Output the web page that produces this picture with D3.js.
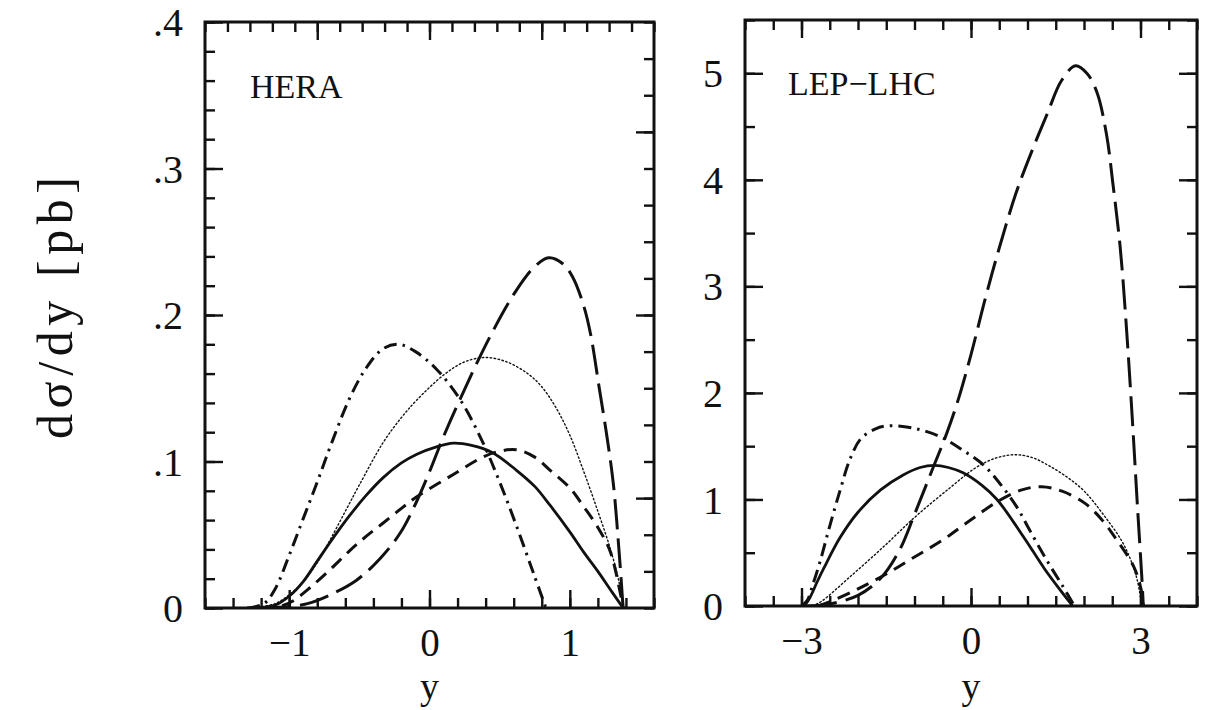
<!DOCTYPE html>
<html>
<head>
<meta charset="utf-8">
<script src="https://cdn.jsdelivr.net/npm/d3@7"></script>
<style>
  body { margin: 0; background: #fff; }
  svg { display: block; }
  text { font-family: "Liberation Serif", "DejaVu Serif", serif; fill: #111; }
</style>
</head>
<body>
<svg id="chart" width="1211" height="710"></svg>
<script>
// Data ----------------------------------------------------------
// HERA panel: [y, dsigma/dy in pb]
var heraSolid = [[-1.25, 0], [-1.1, 0.002], [-1.0, 0.008], [-0.9, 0.018], [-0.8, 0.032], [-0.7, 0.046],
  [-0.57, 0.063], [-0.45, 0.077], [-0.33, 0.089], [-0.2, 0.099], [-0.09, 0.105], [0.05, 0.110],
  [0.17, 0.1125], [0.3, 0.111], [0.45, 0.106], [0.62, 0.094], [0.75, 0.083], [0.86, 0.070],
  [1.0, 0.052], [1.1, 0.038], [1.2, 0.025], [1.3, 0.011], [1.38, 0]];
var heraDotted = [[-1.25, 0], [-1.1, 0.003], [-1.0, 0.009], [-0.9, 0.018], [-0.8, 0.031], [-0.7, 0.048],
  [-0.6, 0.066], [-0.5, 0.084], [-0.33, 0.113], [-0.2, 0.130], [-0.09, 0.142], [0.1, 0.159],
  [0.25, 0.168], [0.4, 0.171], [0.55, 0.168], [0.7, 0.160], [0.8, 0.151], [0.9, 0.137],
  [1.0, 0.118], [1.1, 0.093], [1.2, 0.066], [1.29, 0.040], [1.35, 0.018], [1.38, 0]];
var heraDotDash = [[-1.3, 0], [-1.18, 0.003], [-1.1, 0.013], [-1.0, 0.036], [-0.9, 0.061], [-0.8, 0.086],
  [-0.7, 0.112], [-0.57, 0.143], [-0.45, 0.164], [-0.33, 0.177], [-0.22, 0.180], [-0.1, 0.175],
  [0.05, 0.163], [0.22, 0.142], [0.38, 0.113], [0.5, 0.086], [0.62, 0.056], [0.74, 0.024], [0.83, 0]];
var heraDash = [[-1.2, 0], [-1.04, 0.002], [-0.97, 0.005], [-0.85, 0.014], [-0.7, 0.027], [-0.57, 0.039],
  [-0.45, 0.049], [-0.33, 0.058], [-0.2, 0.068], [-0.09, 0.076], [0.15, 0.090], [0.38, 0.103],
  [0.5, 0.107], [0.62, 0.108], [0.75, 0.103], [0.86, 0.094], [1.0, 0.082], [1.1, 0.069],
  [1.2, 0.055], [1.29, 0.038], [1.38, 0]];
var heraLongDash = [[-1.2, 0], [-1.0, 0.001], [-0.87, 0.003], [-0.73, 0.008], [-0.52, 0.019], [-0.35, 0.034],
  [-0.21, 0.051], [-0.1, 0.071], [0.0, 0.093], [0.1, 0.117], [0.22, 0.143], [0.43, 0.185],
  [0.62, 0.217], [0.75, 0.233], [0.85, 0.239], [0.95, 0.235], [1.02, 0.226], [1.1, 0.206],
  [1.15, 0.186], [1.21, 0.150], [1.26, 0.120], [1.31, 0.085], [1.35, 0.040], [1.38, 0]];

// LEP-LHC panel
var lhcSolid = [[-2.95, 0], [-2.85, 0.08], [-2.72, 0.23], [-2.6, 0.36], [-2.32, 0.64], [-2.0, 0.88],
  [-1.6, 1.09], [-1.2, 1.23], [-0.9, 1.30], [-0.65, 1.32], [-0.4, 1.30], [-0.14, 1.25],
  [0.2, 1.13], [0.46, 1.0], [0.75, 0.79], [1.04, 0.56], [1.3, 0.35], [1.55, 0.17], [1.8, 0]];
var lhcDotDash = [[-3.0, 0], [-2.9, 0.05], [-2.8, 0.2], [-2.67, 0.42], [-2.5, 0.75], [-2.32, 1.08],
  [-2.14, 1.38], [-1.95, 1.57], [-1.7, 1.66], [-1.49, 1.69], [-1.03, 1.67], [-0.55, 1.59],
  [-0.14, 1.46], [0.21, 1.33], [0.51, 1.15], [0.81, 0.93], [1.04, 0.71], [1.34, 0.43],
  [1.63, 0.18], [1.83, 0]];
var lhcDotted = [[-2.8, 0], [-2.63, 0.05], [-2.15, 0.27], [-1.56, 0.55], [-0.98, 0.84], [-0.37, 1.11],
  [0.09, 1.30], [0.45, 1.39], [0.8, 1.42], [1.1, 1.39], [1.4, 1.31], [1.7, 1.21], [2.0, 1.08],
  [2.34, 0.86], [2.7, 0.58], [2.93, 0.27], [3.02, 0]];
var lhcDash = [[-2.7, 0], [-2.45, 0.05], [-2.0, 0.16], [-1.5, 0.30], [-1.0, 0.46], [-0.5, 0.62],
  [0.0, 0.81], [0.5, 0.99], [0.9, 1.09], [1.25, 1.12], [1.6, 1.08], [2.0, 0.97], [2.3, 0.82],
  [2.58, 0.62], [2.88, 0.37], [3.0, 0.18], [3.05, 0]];
var lhcLongDash = [[-2.9, 0], [-2.5, 0.02], [-2.0, 0.10], [-1.6, 0.26], [-1.26, 0.53], [-1.0, 0.86],
  [-0.67, 1.30], [-0.43, 1.62], [-0.23, 1.93], [0.0, 2.36], [0.25, 2.88], [0.5, 3.36], [0.8, 3.88],
  [1.1, 4.30], [1.35, 4.62], [1.6, 4.93], [1.85, 5.07], [2.05, 5.0], [2.23, 4.82], [2.4, 4.42],
  [2.51, 3.97], [2.64, 3.37], [2.75, 2.62], [2.85, 1.80], [2.95, 0.90], [3.02, 0.30], [3.05, 0]];

// Tick values
var heraXMajor = [-1, 0, 1];
var heraXMinor = d3.range(-8, 9).map(function(i) { return i * 0.2; });
var heraTopMajor = [-0.8, 0, 0.8];
var heraTopMinor = d3.range(-10, 11).map(function(i) { return i * 0.16; });
var heraYMajor = [0, 0.1, 0.2, 0.3, 0.4];
var heraYMinor = d3.range(0, 21).map(function(i) { return i * 0.02; });
var heraRightMajor = [0.075, 0.2, 0.325];
var heraRightMinor = d3.range(0, 17).map(function(i) { return i * 0.025; });
var lhcXMajor = [-3, 0, 3];
var lhcXMinor = d3.range(-8, 9).map(function(i) { return i * 0.5; });
var lhcYMajor = [0, 1, 2, 3, 4, 5];
var lhcYMinor = d3.range(0, 12).map(function(i) { return i * 0.5; });

// Line styles -------------------------------------
var styles = {
  solid:    { width: 2.8, dash: null },
  dash:     { width: 3, dash: '13 8' },
  longDash: { width: 3, dash: '30 9' },
  dotDash:  { width: 3, dash: '13 6 2.5 6' },
  dotted:   { width: 1.4, dash: '1.5 2.5' }
};

var svg = d3.select('#chart');
var MAJ = 18, MIN = 10;

function yLabel(d) {
  if (d === 0) return '0';
  return d3.format('.1f')(d).replace(/^0/, '');
}

// one panel -------------------------------------
function drawPanel(p, id) {
  var x = d3.scaleLinear().domain(p.xDomain).range([p.left, p.right]);
  var y = d3.scaleLinear().domain(p.yDomain).range([p.bottom, p.top]);
  var g = svg.append('g');

  svg.append('clipPath').attr('id', id)
    .append('rect')
    .attr('x', p.left).attr('y', p.top)
    .attr('width', p.right - p.left).attr('height', p.bottom - p.top);

  function axis(gen, transform, values, len, fmt) {
    var a = g.append('g')
      .attr('transform', transform)
      .call(gen.tickValues(values).tickSizeInner(-len).tickSizeOuter(0)
        .tickFormat(fmt || '').tickPadding(0));
    a.select('.domain').remove();
    a.selectAll('.tick line').attr('stroke', '#111').attr('stroke-width', 2.4);
    return a;
  }

  // bottom
  axis(d3.axisBottom(x), 'translate(0,' + p.bottom + ')', p.xMinor, MIN);
  var bx = axis(d3.axisBottom(x), 'translate(0,' + p.bottom + ')', p.xMajor, MAJ, d3.format('d'));
  bx.selectAll('text').attr('y', 20).attr('dy', '0.71em').style('font-size', '39px');
  // top
  axis(d3.axisTop(x), 'translate(0,' + p.top + ')', p.topMinor, MIN);
  axis(d3.axisTop(x), 'translate(0,' + p.top + ')', p.topMajor, MAJ);
  // left
  axis(d3.axisLeft(y), 'translate(' + p.left + ',0)', p.yMinor, MIN);
  var ly = axis(d3.axisLeft(y), 'translate(' + p.left + ',0)', p.yMajor, MAJ, p.yFormat);
  ly.selectAll('text').attr('x', -22).attr('dy', '0.34em').style('font-size', '40px');
  // right
  axis(d3.axisRight(y), 'translate(' + p.right + ',0)', p.rightMinor, MIN);
  axis(d3.axisRight(y), 'translate(' + p.right + ',0)', p.rightMajor, MAJ);

  // frame
  g.append('rect')
    .attr('x', p.left).attr('y', p.top)
    .attr('width', p.right - p.left).attr('height', p.bottom - p.top)
    .attr('fill', 'none').attr('stroke', '#111').attr('stroke-width', 3);

  // curves
  var line = d3.line()
    .x(function(d) { return x(d[0]); })
    .y(function(d) { return y(d[1]); })
    .curve(d3.curveCatmullRom.alpha(0.5));
  var curves = g.append('g').attr('clip-path', 'url(#' + id + ')');
  p.curves.forEach(function(c) {
    var s = styles[c.style];
    curves.append('path')
      .attr('d', line(c.data))
      .attr('fill', 'none')
      .attr('stroke', '#111')
      .attr('stroke-width', s.width)
      .attr('stroke-dasharray', s.dash)
      .attr('stroke-linecap', c.style === 'dotted' ? 'round' : 'butt');
  });

  // panel label
  g.append('text')
    .attr('x', p.labelX).attr('y', p.labelY)
    .style('font-size', '34px')
    .text(p.label);

  // x title
  g.append('text')
    .attr('x', x(0)).attr('y', 699)
    .attr('text-anchor', 'middle')
    .style('font-size', '38px')
    .text('y');
}

drawPanel({
  left: 205, right: 654, top: 22, bottom: 608,
  xDomain: [-1.6, 1.6], yDomain: [0, 0.4],
  xMajor: heraXMajor, xMinor: heraXMinor,
  topMajor: heraTopMajor, topMinor: heraTopMinor,
  yMajor: heraYMajor, yMinor: heraYMinor,
  rightMajor: heraRightMajor, rightMinor: heraRightMinor,
  yFormat: yLabel,
  label: 'HERA', labelX: 250, labelY: 98,
  curves: [
    { data: heraDotted, style: 'dotted' },
    { data: heraDash, style: 'dash' },
    { data: heraLongDash, style: 'longDash' },
    { data: heraDotDash, style: 'dotDash' },
    { data: heraSolid, style: 'solid' }
  ]
}, 'clip-hera');

drawPanel({
  left: 745, right: 1197, top: 20, bottom: 606,
  xDomain: [-4, 4], yDomain: [0, 5.5],
  xMajor: lhcXMajor, xMinor: lhcXMinor,
  topMajor: lhcXMajor, topMinor: lhcXMinor,
  yMajor: lhcYMajor, yMinor: lhcYMinor,
  rightMajor: lhcYMajor, rightMinor: lhcYMinor,
  yFormat: d3.format('d'),
  label: 'LEP\u2212LHC', labelX: 788, labelY: 95,
  curves: [
    { data: lhcDotted, style: 'dotted' },
    { data: lhcDash, style: 'dash' },
    { data: lhcLongDash, style: 'longDash' },
    { data: lhcDotDash, style: 'dotDash' },
    { data: lhcSolid, style: 'solid' }
  ]
}, 'clip-lhc');

// y title
svg.append('text')
  .attr('transform', 'translate(72,308) rotate(-90)')
  .attr('text-anchor', 'middle')
  .attr('textLength', 262)
  .attr('lengthAdjust', 'spacing')
  .style('font-size', '50px')
  .text('d\u03c3/dy [pb]');
</script>
</body>
</html>
